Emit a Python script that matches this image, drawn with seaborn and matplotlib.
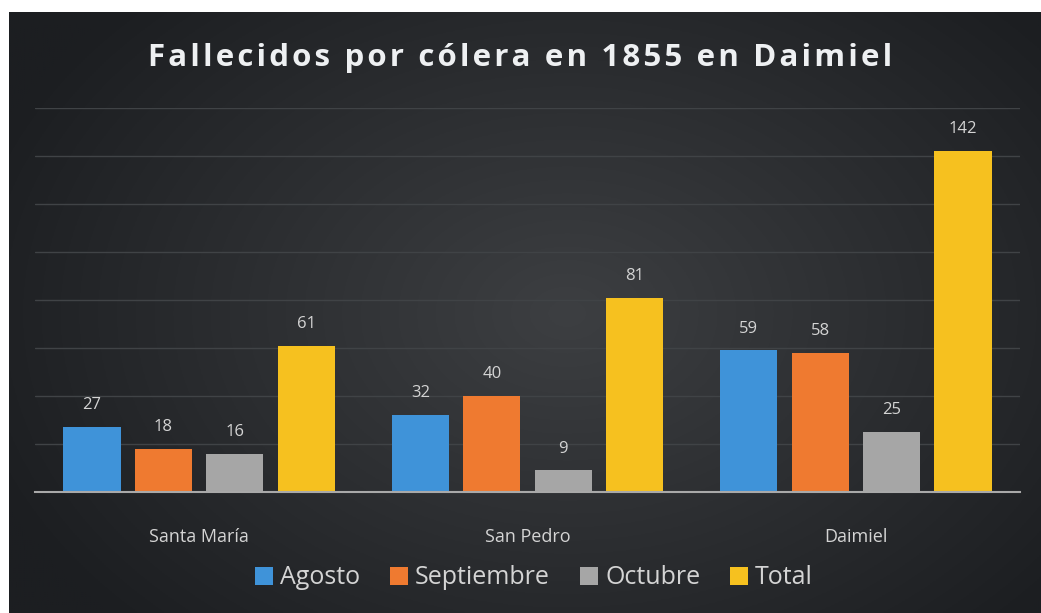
import numpy as np
import pandas as pd
import matplotlib
matplotlib.use("Agg")
import matplotlib.pyplot as plt
import seaborn as sns

# datos
lugares = ["Santa María", "San Pedro", "Daimiel"]
meses = ["Agosto", "Septiembre", "Octubre", "Total"]
agosto = [27, 32, 59]
septiembre = [18, 40, 58]
octubre = [16, 9, 25]
total = [61, 81, 142]
colores = ["#3f93d9", "#ef7a30", "#a6a6a6", "#f6c11f"]
titulo = "Fallecidos por cólera en 1855 en Daimiel"

df = pd.DataFrame({
    "lugar": lugares * 4,
    "mes": [m for m in meses for _ in lugares],
    "valor": agosto + septiembre + octubre + total,
})

sns.set_theme(style="dark")
plt.rcParams["font.family"] = ["Open Sans", "DejaVu Sans"]

fig = plt.figure(figsize=(10.41, 6.13), dpi=100, facecolor="white")

# fondo oscuro con degradado radial
bg = fig.add_axes([9 / 1041, 0, 1 - 9 / 1041, 1 - 12 / 613])
yy, xx = np.mgrid[0:300, 0:500]
r = np.sqrt(((xx - 270) / 300) ** 2 + ((yy - 150) / 220) ** 2)
r = np.clip(r, 0, 1)
c0 = np.array([0x3d, 0x3f, 0x42]) / 255
c1 = np.array([0x1c, 0x1e, 0x21]) / 255
img = c0[None, None, :] * (1 - r[..., None]) + c1[None, None, :] * r[..., None]
bg.imshow(img, aspect="auto", extent=[0, 1, 0, 1])
bg.set_axis_off()

ax = fig.add_axes([35 / 1041, 1 - 492 / 613, (1020 - 35) / 1041, (492 - 108) / 613])
ax.set_facecolor("none")

sns.barplot(data=df, x="lugar", y="valor", hue="mes", palette=colores,
            width=0.87, gap=0.2, ax=ax, legend=True, saturation=1, linewidth=0)

ax.set_ylim(0, 160)
ax.set_xlim(-0.5, 2.5)
ax.set_yticks(np.arange(20, 161, 20))
ax.yaxis.grid(True, color="#404346", linewidth=1)
ax.set_axisbelow(True)
ax.tick_params(axis="y", left=False, labelleft=False)
ax.tick_params(axis="x", bottom=False, labelsize=13, colors="#d4d4d4", pad=20)
ax.set_xlabel("")
ax.set_ylabel("")
for s in ["top", "right", "left"]:
    ax.spines[s].set_visible(False)
ax.spines["bottom"].set_color("#a9a9a9")
ax.spines["bottom"].set_linewidth(1.5)

for cont in ax.containers:
    ax.bar_label(cont, padding=10, color="#d4d4d4", fontsize=12)

handles, labels = ax.get_legend_handles_labels()
for h in handles:
    h.set_linewidth(0)
ax.get_legend().remove()
fig.legend(handles, labels, loc="center", bbox_to_anchor=(0.513, 1 - 578 / 613),
           ncol=4, frameon=False, fontsize=18, labelcolor="#d4d4d4",
           handlelength=0.7, handleheight=0.7, handletextpad=0.3, columnspacing=1.2)

# titulo con espaciado entre letras
fig.text(0.5, 1 - 58 / 613, "\u200a".join(titulo),
         ha="center", va="center", fontsize=22.5, fontweight="bold", color="#eef0f2")

fig.savefig("out.png", dpi=100, facecolor="white")
